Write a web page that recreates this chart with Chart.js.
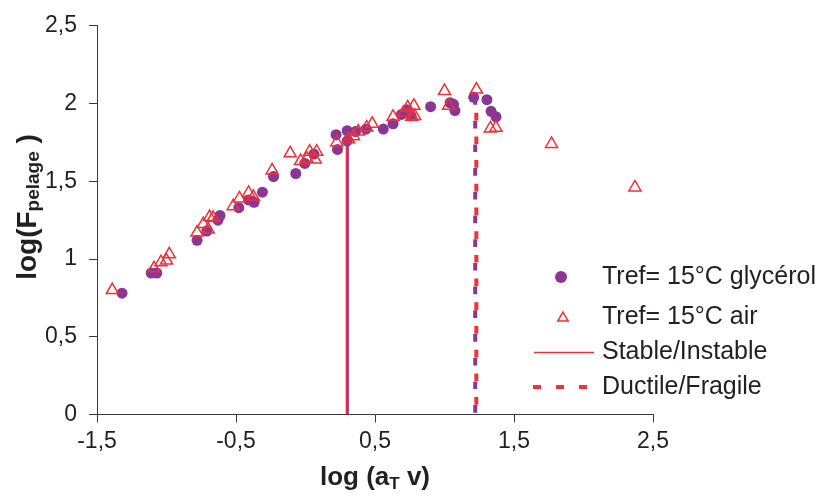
<!DOCTYPE html>
<html>
<head>
<meta charset="utf-8">
<title>log(F pelage) en fonction de log(aT v)</title>
<script src="https://cdn.jsdelivr.net/npm/chart.js@4.4.1/dist/chart.umd.min.js"></script>
<style>
  html, body { margin: 0; padding: 0; background: #fff; }
  #wrap { position: relative; width: 822px; height: 498px; }
</style>
</head>
<body>
<div id="wrap"><canvas id="chart" width="822" height="498"></canvas></div>
<script>
// axis ticks
const xTicks = [-1.5, -0.5, 0.5, 1.5, 2.5];
const yTicks = [0, 0.5, 1, 1.5, 2, 2.5];

// Tref = 15°C glycérol (circles)
const glycerolX = [-1.32, -1.11, -1.07, -0.78, -0.71, -0.63, -0.615, -0.48, -0.41, -0.37, -0.31, -0.23,
                   -0.07, -0.005, 0.06, 0.22, 0.23, 0.30, 0.30, 0.36, 0.435, 0.56, 0.63, 0.69, 0.73,
                   0.76, 0.90, 1.04, 1.065, 1.075, 1.21, 1.305, 1.335, 1.37];
const glycerolY = [0.78, 0.91, 0.91, 1.12, 1.18, 1.25, 1.28, 1.33, 1.38, 1.365, 1.43, 1.53,
                   1.55, 1.615, 1.675, 1.80, 1.705, 1.825, 1.76, 1.82, 1.835, 1.836, 1.87, 1.93, 1.96,
                   1.92, 1.98, 2.005, 1.995, 1.955, 2.04, 2.025, 1.95, 1.915];

// Tref = 15°C air (triangles)
const airX = [-1.39, -1.09, -1.04, -1.00, -0.98, -0.78, -0.735, -0.70, -0.69, -0.665, -0.52, -0.475,
              -0.41, -0.375, -0.24, -0.11, -0.035, 0.01, 0.03, 0.07, 0.08, 0.225, 0.31, 0.345, 0.38,
              0.44, 0.48, 0.63, 0.705, 0.735, 0.78, 0.765, 0.785, 1.00, 1.03, 1.23, 1.33, 1.37, 1.77, 2.37];
const airY = [0.80, 0.94, 0.98, 0.99, 1.03, 1.17, 1.225, 1.19, 1.27, 1.265, 1.34, 1.39,
              1.425, 1.40, 1.57, 1.68, 1.63, 1.645, 1.69, 1.64, 1.69, 1.75, 1.77, 1.79, 1.82,
              1.846, 1.87, 1.915, 1.94, 1.975, 1.985, 1.915, 1.92, 2.08, 1.985, 2.09, 1.84, 1.845, 1.74, 1.46];

// transitions: [air, glycérol]
const stableX = [0.296, 0.305];
const stableTop = 1.75;
const ductileX = [1.229, 1.221];
const ductileTop = 2.03;

const legendLabels = ['Tref= 15°C glycérol', 'Tref= 15°C air', 'Stable/Instable', 'Ductile/Fragile'];

const RED = '#ee3239';
const PURPLE = '#8b3594';
const INK = '#231f20';
const AXIS = '#3a3a3a';
const FAMILY = "'Liberation Sans', Arial, sans-serif";

const comma = v => String(v).replace('.', ',');
const toPoints = (xs, ys) => xs.map((x, i) => ({ x: x, y: ys[i] }));
const vline = (x, top) => [{ x: x, y: 0 }, { x: x, y: top }];

// draws text pieces [text, size, shift] centred on cx
function richText(ctx, parts, cx, cy) {
  let total = 0;
  parts.forEach(p => { ctx.font = 'bold ' + p[1] + 'px ' + FAMILY; total += ctx.measureText(p[0]).width; });
  let x = cx - total / 2;
  ctx.textAlign = 'left';
  parts.forEach(p => {
    ctx.font = 'bold ' + p[1] + 'px ' + FAMILY;
    ctx.fillText(p[0], x, cy + (p[2] || 0));
    x += ctx.measureText(p[0]).width;
  });
}

function triangle(ctx, x, y, r) {
  ctx.beginPath();
  for (let i = 0; i < 3; i++) {
    const a = i * 2 * Math.PI / 3;
    const px = x + Math.sin(a) * r, py = y - Math.cos(a) * r;
    if (i === 0) ctx.moveTo(px, py); else ctx.lineTo(px, py);
  }
  ctx.closePath();
  ctx.stroke();
}

const extras = {
  id: 'extras',
  afterDraw(chart) {
    const ctx = chart.ctx;
    const area = chart.chartArea;
    ctx.save();
    ctx.fillStyle = INK;
    ctx.textBaseline = 'middle';

    // axis titles
    richText(ctx, [['log (a', 26], ['T', 17, 6], [' v)', 26]], (area.left + area.right) / 2, 478);
    ctx.save();
    ctx.translate(28, 207);
    ctx.rotate(-Math.PI / 2);
    richText(ctx, [['log(F', 28], ['pelage', 19, 6], [' )', 28]], 0, 0);
    ctx.restore();

    // legend
    const rows = [277, 317, 352, 387];
    const tx = 602;
    ctx.fillStyle = PURPLE;
    ctx.beginPath();
    ctx.arc(561, rows[0], 6, 0, 2 * Math.PI);
    ctx.fill();

    ctx.strokeStyle = RED;
    ctx.lineWidth = 1.5;
    triangle(ctx, 563, rows[1] + 1, 6);

    ctx.beginPath();
    ctx.moveTo(534, rows[2] + 0.5);
    ctx.lineTo(594, rows[2] + 0.5);
    ctx.stroke();

    ctx.lineWidth = 4;
    ctx.setLineDash([8, 15]);
    ctx.beginPath();
    ctx.moveTo(533, rows[3]);
    ctx.lineTo(594, rows[3]);
    ctx.stroke();
    ctx.setLineDash([]);

    ctx.fillStyle = INK;
    ctx.font = '25px ' + FAMILY;
    ctx.textAlign = 'left';
    legendLabels.forEach((t, i) => ctx.fillText(t, tx, rows[i]));
    ctx.restore();
  }
};

new Chart(document.getElementById('chart'), {
  type: 'scatter',
  data: {
    datasets: [
      {
        label: legendLabels[1], data: toPoints(airX, airY),
        pointStyle: 'triangle', pointRadius: 7, borderColor: RED, borderWidth: 1.5,
        backgroundColor: 'rgba(0,0,0,0)'
      },
      {
        label: legendLabels[0], data: toPoints(glycerolX, glycerolY),
        pointStyle: 'circle', pointRadius: 5.5, borderWidth: 0,
        backgroundColor: PURPLE, borderColor: PURPLE
      },
      {
        label: legendLabels[2], data: vline(stableX[0], stableTop), showLine: true,
        pointRadius: 0, borderColor: RED, borderWidth: 2
      },
      {
        label: legendLabels[2], data: vline(stableX[1], stableTop), showLine: true,
        pointRadius: 0, borderColor: PURPLE, borderWidth: 2
      },
      {
        label: legendLabels[3], data: vline(ductileX[0], ductileTop), showLine: true,
        pointRadius: 0, borderColor: RED, borderWidth: 4, borderDash: [7.7, 16], borderDashOffset: 14
      },
      {
        label: legendLabels[3], data: vline(ductileX[1], ductileTop), showLine: true,
        pointRadius: 0, borderColor: PURPLE, borderWidth: 4, borderDash: [7.7, 16], borderDashOffset: 22
      }
    ]
  },
  options: {
    responsive: false,
    animation: false,
    events: [],
    layout: { padding: { top: 25, right: 169, bottom: 0, left: 0 } },
    plugins: { legend: { display: false }, tooltip: { enabled: false } },
    scales: {
      x: {
        type: 'linear', min: xTicks[0], max: xTicks[xTicks.length - 1],
        afterBuildTicks: s => { s.ticks = xTicks.map(v => ({ value: v })); },
        afterFit: s => { s.height = 83.5; },
        grid: { drawOnChartArea: false, drawTicks: true, tickLength: 8, color: AXIS, lineWidth: 1 },
        border: { display: true, color: AXIS, width: 1 },
        ticks: {
          color: INK, font: { family: FAMILY, size: 23 }, padding: 5,
          maxRotation: 0, autoSkip: false, callback: v => comma(v)
        }
      },
      y: {
        type: 'linear', min: yTicks[0], max: yTicks[yTicks.length - 1],
        afterBuildTicks: s => { s.ticks = yTicks.map(v => ({ value: v })); },
        afterFit: s => { s.width = 97; },
        grid: { drawOnChartArea: false, drawTicks: true, tickLength: 8, color: AXIS, lineWidth: 1 },
        border: { display: true, color: AXIS, width: 1 },
        ticks: {
          color: INK, font: { family: FAMILY, size: 23 }, padding: 12,
          autoSkip: false, callback: v => comma(v)
        }
      }
    }
  },
  plugins: [extras]
});
</script>
</body>
</html>
